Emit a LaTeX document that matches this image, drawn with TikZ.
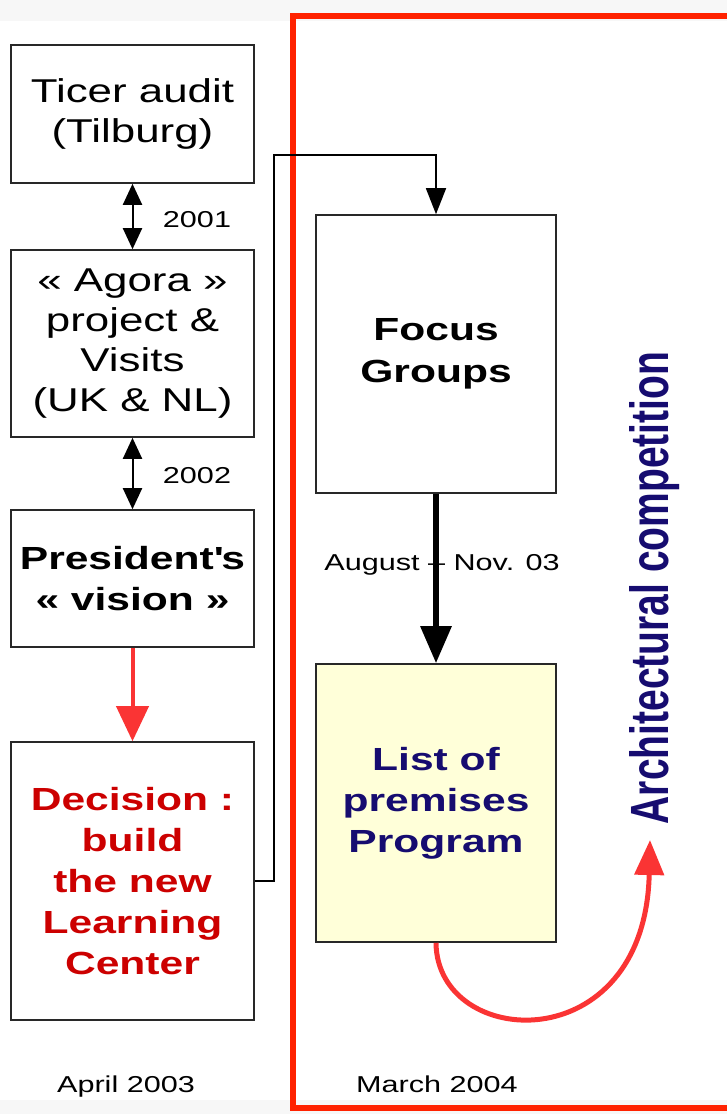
\documentclass[tikz,border=0pt]{standalone}
\usepackage{fontspec}
\usepackage{graphicx}
\setmainfont{Liberation Sans}[FakeStretch=1.33]
\newfontfamily\rotfont{Liberation Sans}
\usetikzlibrary{arrows.meta}
\definecolor{navy}{RGB}{22,12,112}
\definecolor{decred}{RGB}{204,0,0}
\definecolor{arrred}{RGB}{250,52,52}
\definecolor{framered}{RGB}{255,34,0}
\definecolor{progfill}{RGB}{255,255,217}
\definecolor{stripgray}{RGB}{247,247,247}
\definecolor{boxline}{RGB}{40,40,40}
\tikzset{
  box/.style={draw=boxline, line width=1.6pt, rectangle, minimum width=243pt, align=center, inner sep=0pt},
  rbox/.style={draw=boxline, line width=1.6pt, rectangle, minimum width=240pt, minimum height=278pt, align=center, inner sep=0pt},
  regtext/.style={font=\fontsize{33}{40}\selectfont},
  boldtext/.style={font=\fontsize{32}{41}\selectfont\bfseries},
  small/.style={font=\fontsize{23}{27}\selectfont, inner sep=0pt},
  dbl/.style={line width=2pt, {Triangle[width=19pt,length=21pt]}-{Triangle[width=19pt,length=21pt]}},
}
\begin{document}
\begin{tikzpicture}[x=1pt,y=-1pt]
\useasboundingbox (0,0) rectangle (727,1114);
\clip (0,0) rectangle (727,1114);
\fill[stripgray] (0,0) rectangle (727,21);
\fill[stripgray] (0,1100) rectangle (727,1114);
\draw[framered, line width=6pt] (293,15.5) rectangle (760,1108);

\node[box, regtext, minimum height=138pt] (B1) at (132.5,114) {Ticer audit\\(Tilburg)};
\node[box, regtext, minimum height=187pt] (B2) at (132.5,343.5) {« Agora »\\project \&\\Visits\\(UK \& NL)};
\node[box, boldtext, minimum height=137pt] (B3) at (132.5,578.5) {President\textquotesingle s\\« vision »};
\node[box, boldtext, text=decred, minimum height=278pt] (B4) at (132.5,881) {Decision :\\build\\the new\\Learning\\Center};

\node[rbox, boldtext, font=\fontsize{32}{42}\selectfont\bfseries] (F) at (436,354) {Focus\\Groups};
\node[rbox, boldtext, fill=progfill, text=navy] (P) at (436,803) {List of\\premises\\Program};

\draw[dbl] (B1.south) -- (B2.north);
\draw[dbl] (B2.south) -- (B3.north);
\node[small] (y1) at (197,220) {2001};
\node[small] (y2) at (197,476) {2002};

\draw[arrred, line width=4pt, -{Triangle[width=32pt,length=35pt]}] (B3.south) -- (B4.north);

\coordinate (c1) at (274,155);
\draw[line width=1.6pt, -{Triangle[width=20pt,length=26pt]}] (B4.east) -| (c1) -| (F.north);

\draw[line width=6pt, -{Triangle[width=30pt,length=37pt]}] (F.south) -- (P.north);
\node[small] (aug) at (442,565) {August – Nov. 03};

\coordinate (tip) at (650,840);
\draw[arrred, line width=5pt, -{Triangle[width=29pt,length=35pt]}] (P.south) .. controls (437,1050) and (645,1062) .. (tip);

\node[rotate=90, text=navy, inner sep=0pt] (AC) at (655,588) {\scalebox{1}[1.38]{\rotfont\fontsize{39}{45}\selectfont\bfseries Architectural competition}};

\node[small, anchor=base] (d1) at (126,1092) {April 2003};
\node[small, anchor=base] (d2) at (437,1092) {March 2004};
\end{tikzpicture}
\end{document}
